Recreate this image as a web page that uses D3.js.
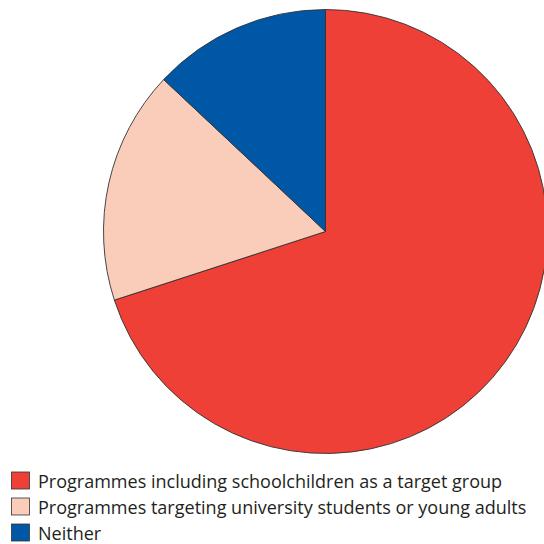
<!DOCTYPE html>
<html>
<head>
<meta charset="utf-8">
<script src="https://cdn.jsdelivr.net/npm/d3@7"></script>
<style>
  html, body { margin: 0; padding: 0; background: #fff; }
  svg { display: block; }
</style>
</head>
<body>
<svg id="chart" width="544" height="544"></svg>
<script>
// Share of programmes by target group (percent)
const categories = [
  "Programmes including schoolchildren as a target group",
  "Programmes targeting university students or young adults",
  "Neither"
];
const values = [70, 17, 13];
const colors = ["#EE4036", "#F9CDBA", "#0057A6"];

const svg = d3.select("#chart");
const cx = 325.5, cy = 231.5, radius = 222;

const pie = d3.pie().sort(null).value(d => d.value);
const arc = d3.arc().innerRadius(0).outerRadius(radius);

const data = categories.map((c, i) => ({ name: c, value: values[i], color: colors[i] }));

svg.append("g")
  .attr("transform", `translate(${cx},${cy})`)
  .selectAll("path")
  .data(pie(data))
  .join("path")
  .attr("d", arc)
  .attr("fill", d => d.data.color)
  .attr("stroke", "#333")
  .attr("stroke-width", 0.9)
  .attr("stroke-linejoin", "round");

// Legend
const legend = svg.append("g");
const rowY = d3.scalePoint().domain(categories).range([480.5, 532.5]);

const rows = legend.selectAll("g")
  .data(data)
  .join("g")
  .attr("transform", d => `translate(0,${rowY(d.name)})`);

rows.append("rect")
  .attr("x", 11.5)
  .attr("y", -8.5)
  .attr("width", 18)
  .attr("height", 17)
  .attr("fill", d => d.color)
  .attr("stroke", "#333")
  .attr("stroke-width", 0.8);

const labels = rows.append("text")
  .attr("x", 38)
  .attr("y", 7)
  .attr("font-family", "'Open Sans', sans-serif")
  .attr("font-size", 17)
  .attr("fill", "#231F20")
  .text(d => d.name);

// Size the legend text so the longest label spans the same width as the layout grid
const longest = labels.filter((d, i) => i === 1).node();
const w = longest.getComputedTextLength();
const fs = 17 * 489 / w;
labels.attr("font-size", fs);
</script>
</body>
</html>
